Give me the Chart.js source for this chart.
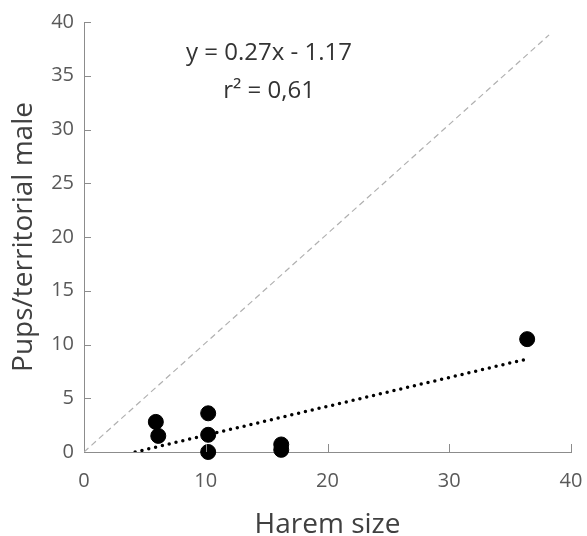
<!DOCTYPE html>
<html>
<head>
<meta charset="utf-8">
<script src="https://cdn.jsdelivr.net/npm/chart.js@4"></script>
<style>
  body { margin: 0; background: #fff; }
  #wrap { width: 587px; height: 536px; }
</style>
</head>
<body>
<div id="wrap"><canvas id="chart" width="587" height="536"></canvas></div>
<script>
// harem size vs pups per territorial male
const haremSize = [5.9, 6.1, 10.2, 10.2, 10.2, 16.2, 16.2, 36.4];
const pupsPerMale = [2.8, 1.5, 3.6, 1.6, 0.0, 0.7, 0.2, 10.5];

// trend line ends
const trendX = [4.2, 36.2];
const trendY = [0.0, 8.6];

// 1:1 reference line
const refX = [0, 38.2];
const refY = [0, 38.8];

const xTicks = [0, 10, 20, 30, 40];
const yTicks = [0, 5, 10, 15, 20, 25, 30, 35, 40];

const equationLines = ["y = 0.27x - 1.17", "r² = 0,61"];

const toPoints = (xs, ys) => xs.map((x, i) => ({ x: x, y: ys[i] }));

const FONT = "'Open Sans', Lato, sans-serif";
const AXIS = "#8c8c8c";

// small inward tick marks + equation text
const extras = {
  id: "extras",
  afterDraw(chart) {
    const ctx = chart.ctx;
    const xs = chart.scales.x;
    const ys = chart.scales.y;
    const area = chart.chartArea;
    ctx.save();
    ctx.strokeStyle = AXIS;
    ctx.lineWidth = 1;
    ctx.beginPath();
    xTicks.slice(1).forEach((v) => {
      const px = Math.round(xs.getPixelForValue(v)) + 0.5;
      ctx.moveTo(px, area.bottom);
      ctx.lineTo(px, area.bottom - 8);
    });
    yTicks.slice(1).forEach((v) => {
      const py = Math.round(ys.getPixelForValue(v)) + 0.5;
      ctx.moveTo(area.left, py);
      ctx.lineTo(area.left + 7, py);
    });
    ctx.stroke();

    ctx.fillStyle = "#333";
    ctx.font = "24px " + FONT;
    ctx.textAlign = "center";
    ctx.textBaseline = "middle";
    ctx.fillText(equationLines[0], xs.getPixelForValue(15.2), ys.getPixelForValue(37.1));
    ctx.fillText(equationLines[1], xs.getPixelForValue(15.2), ys.getPixelForValue(33.6));
    ctx.restore();
  }
};

new Chart(document.getElementById("chart"), {
  type: "scatter",
  data: {
    datasets: [
      {
        label: "data",
        data: toPoints(haremSize, pupsPerMale),
        backgroundColor: "#000",
        borderColor: "#000",
        pointRadius: 7.5,
        pointHoverRadius: 7.5,
        clip: false,
        order: 0
      },
      {
        label: "trend",
        type: "line",
        data: toPoints(trendX, trendY),
        borderColor: "#000",
        borderWidth: 3.5,
        borderDash: [0, 7],
        borderCapStyle: "round",
        pointRadius: 0,
        fill: false,
        order: 1
      },
      {
        label: "1:1",
        type: "line",
        data: toPoints(refX, refY),
        borderColor: "#b0b0b0",
        borderWidth: 1.2,
        borderDash: [6, 4],
        pointRadius: 0,
        fill: false,
        order: 2
      }
    ]
  },
  options: {
    responsive: false,
    animation: false,
    layout: { padding: { top: 21, right: 0, left: 0, bottom: 0 } },
    plugins: {
      legend: { display: false },
      tooltip: { enabled: false }
    },
    scales: {
      x: {
        type: "linear",
        min: 0,
        max: 40,
        afterFit: (s) => {
          s.height = 84;
          s.paddingLeft = 0;
          s.paddingRight = 16;
        },
        afterBuildTicks: (s) => { s.ticks = xTicks.map((v) => ({ value: v })); },
        grid: { drawOnChartArea: false, drawTicks: false },
        border: { color: AXIS, width: 1 },
        ticks: { color: "#595959", font: { family: FONT, size: 20 }, padding: 17 },
        title: {
          display: true,
          text: "Harem size",
          color: "#404040",
          font: { family: FONT, size: 28, lineHeight: 0.8 },
          padding: { top: 0, bottom: 0 }
        }
      },
      y: {
        type: "linear",
        min: 0,
        max: 40,
        afterFit: (s) => { s.width = 84; },
        afterBuildTicks: (s) => { s.ticks = yTicks.map((v) => ({ value: v })); },
        grid: { drawOnChartArea: false, drawTicks: false },
        border: { color: AXIS, width: 1 },
        ticks: { color: "#595959", font: { family: FONT, size: 20 }, padding: 10 },
        title: {
          display: true,
          text: "Pups/territorial male",
          color: "#404040",
          font: { family: FONT, size: 28 },
          padding: { top: 7, bottom: 0 }
        }
      }
    }
  },
  plugins: [extras]
});
</script>
</body>
</html>
